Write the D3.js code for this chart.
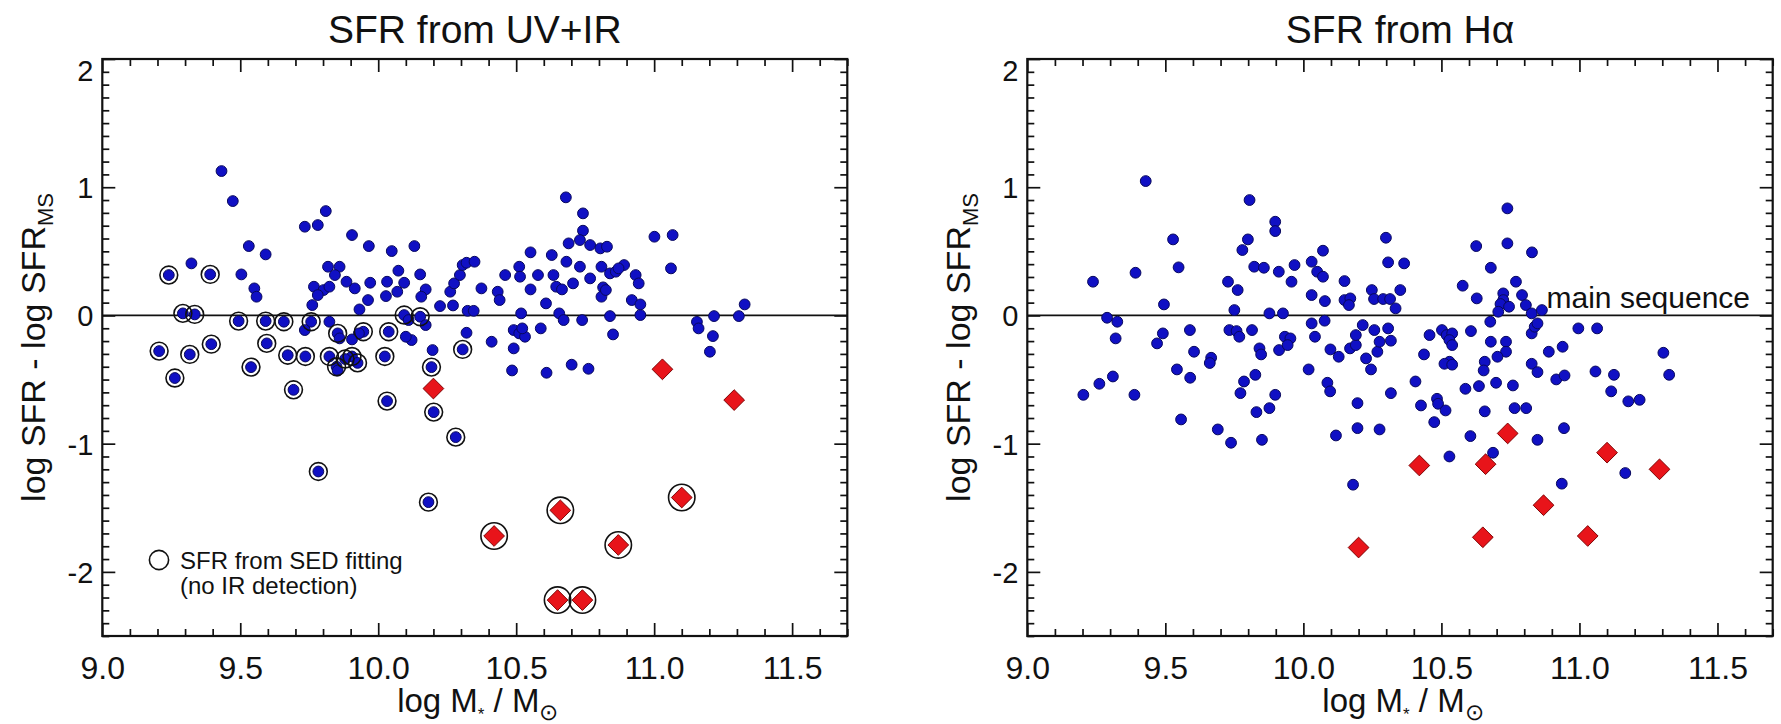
<!DOCTYPE html>
<html>
<head>
<meta charset="utf-8">
<script src="https://cdn.jsdelivr.net/npm/d3@7"></script>
<style>
  body { margin: 0; background: #fff; }
  svg text { font-family: "Liberation Sans", Arial, Helvetica, sans-serif; fill: #111; }
</style>
</head>
<body>
<svg id="chart" width="1781" height="724"></svg>
<script>
// ---- Star-forming galaxies: SFR from UV+IR (left panel) ----
const uvirMass = [
  9.432, 9.473, 9.810, 9.734, 9.781, 9.905, 9.531, 9.592, 9.966, 10.049, 10.131, 9.323, 9.241, 9.391, 9.504,
  9.551, 9.559, 9.818, 9.860, 9.843, 9.885, 9.915, 9.767, 9.802, 9.781, 9.761, 9.823, 9.932, 9.963, 9.971,
  10.032, 10.073, 10.069, 10.028, 10.094, 10.152, 10.172, 10.156, 10.224, 10.271, 10.261, 10.275, 10.296, 10.306, 10.320,
  10.349, 10.324, 10.346, 10.374, 10.433, 10.440, 10.460, 10.511, 10.514, 10.552, 10.552, 10.579, 10.608, 10.629, 10.635,
  10.645, 10.666, 10.680, 10.682, 10.690, 10.706, 10.731, 10.742, 10.742, 10.731, 10.768, 10.805, 10.829, 10.768, 10.809,
  10.815, 10.809, 10.840, 10.861, 10.891, 10.871, 10.825, 10.933, 10.944, 10.919, 10.950, 11.001, 11.067, 11.061, 11.328,
  11.217, 11.307, 11.155, 11.161, 11.213, 11.202, 10.656, 10.672, 10.739, 10.840, 10.851, 10.950, 10.518, 10.491, 10.511,
  10.532, 10.522, 10.589, 10.320, 10.411, 10.491, 10.197, 10.306, 10.094, 10.152, 10.110, 10.172, 10.121, 10.100, 10.038,
  9.946, 9.930, 9.853, 9.860, 9.905, 9.823, 9.757, 9.734, 9.658, 9.592, 9.494, 9.335, 9.292, 9.596, 9.395,
  9.206, 9.317, 9.539, 9.672, 9.736, 9.823, 9.905, 9.880, 10.024, 10.193, 9.849, 9.853, 9.925, 9.263, 9.693,
  10.032, 10.201, 10.281, 9.783, 10.182, 10.485, 10.610, 10.701, 10.762
];
const uvirDelta = [
  1.126, 0.892, 0.814, 0.692, 0.705, 0.627, 0.541, 0.476, 0.541, 0.502, 0.541, 0.406, 0.315, 0.320, 0.320,
  0.211, 0.146, 0.380, 0.380, 0.315, 0.263, 0.211, 0.224, 0.198, 0.159, 0.081, 0.224, 0.047, 0.120, 0.255,
  0.263, 0.349, 0.185, 0.151, 0.255, 0.320, 0.203, 0.146, 0.073, 0.078, 0.185, 0.250, 0.315, 0.393, 0.411,
  0.419, 0.036, 0.036, 0.211, 0.185, 0.120, 0.315, 0.380, 0.302, 0.492, 0.203, 0.315, 0.094, 0.471, 0.315,
  0.224, 0.203, 0.921, 0.419, 0.562, 0.250, 0.380, 0.796, 0.661, 0.588, 0.549, 0.523, 0.536, 0.289, 0.380,
  0.219, 0.146, 0.328, 0.341, 0.393, 0.367, 0.198, 0.315, 0.250, 0.120, 0.086, 0.614, 0.627, 0.367, 0.086,
  -0.005, -0.005, -0.050, -0.101, -0.161, -0.283, 0.016, -0.036, -0.036, -0.005, -0.148, 0.003, 0.016, -0.114, -0.140,
  -0.166, -0.101, -0.101, -0.135, -0.205, -0.257, -0.270, -0.265, 0.003, -0.010, -0.036, -0.075, -0.192, -0.166, -0.127,
  -0.127, -0.140, -0.140, -0.179, -0.187, -0.049, -0.049, -0.114, -0.049, -0.044, -0.044, 0.008, 0.016, -0.218, -0.224,
  -0.278, -0.304, -0.403, -0.310, -0.320, -0.320, -0.320, -0.340, -0.320, -0.403, -0.400, -0.430, -0.370, -0.488, -0.580,
  -0.668, -0.754, -0.949, -1.217, -1.456, -0.429, -0.447, -0.384, -0.416
];
// 1 = SFR from SED fitting (no IR detection)
const uvirSed = [
  0, 0, 0, 0, 0, 0, 0, 0, 0, 0, 0, 0, 1, 1, 0,
  0, 0, 0, 0, 0, 0, 0, 0, 0, 0, 0, 0, 0, 0, 0,
  0, 0, 0, 0, 0, 0, 0, 0, 0, 0, 0, 0, 0, 0, 0,
  0, 0, 0, 0, 0, 0, 0, 0, 0, 0, 0, 0, 0, 0, 0,
  0, 0, 0, 0, 0, 0, 0, 0, 0, 0, 0, 0, 0, 0, 0,
  0, 0, 0, 0, 0, 0, 0, 0, 0, 0, 0, 0, 0, 0, 0,
  0, 0, 0, 0, 0, 0, 0, 0, 0, 0, 0, 0, 0, 0, 0,
  0, 0, 0, 0, 0, 0, 0, 1, 1, 1, 0, 0, 0, 0, 1,
  1, 0, 1, 0, 0, 0, 1, 0, 1, 1, 1, 1, 1, 1, 1,
  1, 1, 1, 1, 1, 1, 1, 1, 1, 1, 1, 0, 1, 1, 1,
  1, 1, 1, 1, 1, 0, 0, 0, 0
];

// ---- Star-forming galaxies: SFR from H-alpha (right panel) ----
const haMass = [
  9.429, 9.805, 9.898, 9.898, 10.739, 9.528, 9.799, 9.779, 10.071, 10.299, 10.307, 10.365, 10.626, 10.739, 10.828,
  9.392, 9.238, 9.548, 9.822, 9.857, 9.911, 9.968, 10.030, 10.050, 10.071, 9.957, 9.727, 9.762, 10.149, 10.679,
  10.770, 10.577, 10.628, 10.248, 10.351, 10.256, 10.289, 10.314, 10.334, 10.030, 10.078, 10.149, 10.170, 10.165, 9.495,
  9.750, 9.877, 9.926, 10.724, 10.724, 10.714, 10.745, 10.706, 10.792, 10.806, 10.827, 10.864, 10.677, 10.679, 10.734,
  10.734, 10.703, 10.827, 10.838, 10.848, 10.889, 10.939, 10.996, 11.064, 11.304, 9.289, 9.326, 9.320, 9.470, 9.491,
  9.589, 9.604, 9.666, 9.732, 9.758, 9.768, 9.814, 9.841, 9.847, 9.912, 9.933, 9.953, 9.943, 10.030, 10.042,
  10.077, 10.098, 10.128, 10.169, 10.190, 10.190, 10.215, 10.227, 10.257, 10.268, 10.276, 10.307, 10.317, 10.437, 10.457,
  10.502, 10.519, 10.539, 10.529, 10.539, 10.607, 10.529, 10.657,
  9.203, 9.261, 9.310, 9.388, 9.542, 9.590, 9.557, 9.661, 9.690, 9.738, 9.772, 9.785, 9.826, 9.830, 9.850,
  9.877, 9.898, 10.019, 10.087, 10.097, 10.118, 10.196, 10.196, 10.245, 10.276, 10.317, 10.180, 10.406, 10.426, 10.484,
  10.488, 10.515, 10.474, 10.511, 10.539, 10.587, 10.605, 10.529, 10.636, 10.653, 10.657, 10.687, 10.698, 10.759, 10.765,
  10.807, 10.827, 10.848, 10.848, 10.916, 10.946, 10.944, 10.936, 11.058, 11.125, 11.115, 11.177, 11.218, 11.166, 11.325
];
const haDelta = [
  1.048, 0.900, 0.731, 0.658, 0.835, 0.593, 0.593, 0.510, 0.505, 0.606, 0.414, 0.406, 0.541, 0.562, 0.492,
  0.333, 0.263, 0.375, 0.380, 0.372, 0.341, 0.393, 0.419, 0.341, 0.302, 0.263, 0.263, 0.198, 0.268, 0.372,
  0.263, 0.232, 0.133, 0.198, 0.198, 0.128, 0.128, 0.128, 0.055, 0.159, 0.112, 0.120, 0.133, 0.081, 0.086,
  0.042, 0.016, 0.016, 0.172, 0.120, 0.089, 0.068, 0.029, 0.159, 0.081, 0.016, 0.042, -0.049, -0.205, -0.205,
  -0.283, -0.322, -0.140, -0.088, -0.062, -0.283, -0.244, -0.101, -0.101, -0.291, -0.018, -0.049, -0.179, -0.218, -0.140,
  -0.114, -0.283, -0.330, -0.114, -0.122, -0.166, -0.114, -0.257, -0.304, -0.270, -0.166, -0.179, -0.231, -0.062, -0.166,
  -0.041, -0.265, -0.322, -0.257, -0.231, -0.153, -0.075, -0.335, -0.114, -0.283, -0.205, -0.101, -0.197, -0.304, -0.153,
  -0.114, -0.153, -0.140, -0.192, -0.231, -0.122, -0.361, -0.361,
  -0.619, -0.533, -0.476, -0.619, -0.421, -0.486, -0.811, -0.371, -0.889, -0.993, -0.606, -0.515, -0.463, -0.754, -0.970,
  -0.723, -0.619, -0.421, -0.525, -0.592, -0.936, -0.684, -0.879, -0.421, -0.889, -0.606, -1.320, -0.515, -0.702, -0.650,
  -0.689, -0.741, -0.832, -0.377, -0.384, -0.572, -0.941, -1.100, -0.551, -0.429, -0.748, -1.071, -0.525, -0.546, -0.723,
  -0.723, -0.377, -0.442, -0.970, -0.499, -0.468, -0.879, -1.312, -0.437, -0.463, -0.592, -0.670, -0.658, -1.229, -0.463
];

// ---- Quiescent-side outliers (red diamonds), same galaxies in both panels ----
const qMass      = [10.20, 10.42, 10.66, 10.65, 10.74, 10.87, 11.03, 11.10, 11.29];
const qDeltaUVIR = [-0.57, -1.72, -1.52, -2.22, -2.22, -1.79, -0.42, -1.42, -0.66];
const qSedUVIR   = [0, 1, 1, 1, 1, 1, 0, 1, 0];
const qDeltaHa   = [-1.81, -1.17, -1.16, -1.73, -0.92, -1.48, -1.72, -1.07, -1.20];

// ---- Axes ----
const xDomain = [9.0, 11.7];
const yDomain = [-2.5, 2.0];
const xMajorTicks = [9.0, 9.5, 10.0, 10.5, 11.0, 11.5];
const xTickLabels = ["9.0", "9.5", "10.0", "10.5", "11.0", "11.5"];
const yMajorTicks = [-2, -1, 0, 1, 2];
const yTickLabels = ["-2", "-1", "0", "1", "2"];
const panelTitles = ["SFR from UV+IR", "SFR from H\u03b1"];

const svg = d3.select("#chart");
const INK = "#111";
const plotTop = 59, plotBottom = 636;
const MAJOR = 13, MINOR = 7;

const xMinorTicks = d3.range(90, 118).map(v => v / 10).filter(v => Math.round(v * 10) % 5 !== 0);
const yMinorTicks = d3.range(-25, 21).map(v => v / 10).filter(v => Math.round(v * 10) % 10 !== 0);

function styleAxis(g) {
  g.select(".domain").remove();
  g.selectAll(".tick line").attr("stroke", INK).attr("stroke-width", 1.7);
  g.attr("font-family", null).attr("font-size", null);
}

function drawPanel(i, left, right, mass, delta, sed, qDelta, qSed) {
  const x = d3.scaleLinear().domain(xDomain).range([left, right]);
  const y = d3.scaleLinear().domain(yDomain).range([plotBottom, plotTop]);
  const g = svg.append("g");

  // ticks on all four sides, pointing inward
  const sides = [
    [d3.axisBottom, x, `translate(0,${plotBottom})`, xMinorTicks, xMajorTicks],
    [d3.axisTop, x, `translate(0,${plotTop})`, xMinorTicks, xMajorTicks],
    [d3.axisLeft, y, `translate(${left},0)`, yMinorTicks, yMajorTicks],
    [d3.axisRight, y, `translate(${right},0)`, yMinorTicks, yMajorTicks]
  ];
  sides.forEach(([axisFn, sc, tr, minor, major]) => {
    g.append("g").attr("transform", tr)
      .call(axisFn(sc).tickValues(minor).tickSize(-MINOR).tickFormat(""))
      .call(styleAxis);
    g.append("g").attr("transform", tr)
      .call(axisFn(sc).tickValues(major).tickSize(-MAJOR).tickFormat(""))
      .call(styleAxis);
  });

  // tick labels
  const xLab = g.append("g").attr("transform", `translate(0,${plotBottom})`)
    .call(d3.axisBottom(x).tickValues(xMajorTicks).tickSize(0).tickPadding(20)
      .tickFormat((d, k) => xTickLabels[k]))
    .call(styleAxis);
  xLab.selectAll("text").attr("font-size", 32).attr("fill", INK);

  const yLab = g.append("g").attr("transform", `translate(${left},0)`)
    .call(d3.axisLeft(y).tickValues(yMajorTicks).tickSize(0).tickPadding(9)
      .tickFormat((d, k) => yTickLabels[k]))
    .call(styleAxis);
  yLab.selectAll("text").attr("font-size", 29).attr("fill", INK)
    .attr("dy", d => d === 2 ? "0.74em" : "0.36em");

  // frame
  g.append("rect").attr("x", left).attr("y", plotTop)
    .attr("width", right - left).attr("height", plotBottom - plotTop)
    .attr("fill", "none").attr("stroke", INK).attr("stroke-width", 2.2);

  // main-sequence reference line
  g.append("line").attr("x1", left).attr("x2", right)
    .attr("y1", y(0)).attr("y2", y(0))
    .attr("stroke", INK).attr("stroke-width", 1.8);

  // titles
  const cx = (left + right) / 2;
  g.append("text").attr("x", cx).attr("y", 43).attr("text-anchor", "middle")
    .attr("font-size", 39).text(panelTitles[i]);

  const xt = g.append("text").attr("x", cx + 3).attr("y", 712)
    .attr("text-anchor", "middle").attr("font-size", 33);
  xt.append("tspan").text("log M");
  xt.append("tspan").attr("font-size", 17).attr("dy", 8).text("*");
  xt.append("tspan").attr("dy", -8).text(" / M");
  xt.append("tspan").attr("font-size", 23).attr("dy", 8).text("\u2299");

  const yt = g.append("text")
    .attr("transform", `translate(${left - 57},${(plotTop + plotBottom) / 2}) rotate(-90)`)
    .attr("text-anchor", "middle").attr("font-size", 34);
  yt.append("tspan").text("log SFR - log SFR");
  yt.append("tspan").attr("font-size", 22).attr("dy", 8).text("MS");

  // galaxies
  const pts = mass.map((m, k) => ({ m, d: delta[k], s: sed ? sed[k] : 0 }));
  g.append("g").selectAll("circle").data(pts).join("circle")
    .attr("cx", p => x(p.m)).attr("cy", p => y(p.d)).attr("r", 5.4)
    .attr("fill", "#1010c4").attr("stroke", "#08085e").attr("stroke-width", 1);
  g.append("g").selectAll("circle").data(pts.filter(p => p.s)).join("circle")
    .attr("cx", p => x(p.m)).attr("cy", p => y(p.d)).attr("r", 8.9)
    .attr("fill", "none").attr("stroke", INK).attr("stroke-width", 1.6);

  const q = qMass.map((m, k) => ({ m, d: qDelta[k], s: qSed ? qSed[k] : 0 }));
  const diamond = d3.symbol().type(d3.symbolSquare).size(215);
  g.append("g").selectAll("path").data(q).join("path")
    .attr("d", diamond)
    .attr("transform", p => `translate(${x(p.m)},${y(p.d)}) rotate(45)`)
    .attr("fill", "#e8141a").attr("stroke", "#7a0000").attr("stroke-width", 0.9);
  g.append("g").selectAll("circle").data(q.filter(p => p.s)).join("circle")
    .attr("cx", p => x(p.m)).attr("cy", p => y(p.d)).attr("r", 13.2)
    .attr("fill", "none").attr("stroke", INK).attr("stroke-width", 1.6);

  return { x, y, g };
}

const L = drawPanel(0, 102.3, 847.3, uvirMass, uvirDelta, uvirSed, qDeltaUVIR, qSedUVIR);
const R = drawPanel(1, 1027.3, 1772.7, haMass, haDelta, null, qDeltaHa, null);

// legend for the open circles (left panel)
L.g.append("circle").attr("cx", 159).attr("cy", 560).attr("r", 9.6)
  .attr("fill", "none").attr("stroke", INK).attr("stroke-width", 1.6);
L.g.append("text").attr("x", 180).attr("y", 569).attr("font-size", 24).text("SFR from SED fitting");
L.g.append("text").attr("x", 180).attr("y", 594).attr("font-size", 24).text("(no IR detection)");

// main sequence label (right panel)
R.g.append("text").attr("x", 1750).attr("y", 308).attr("text-anchor", "end")
  .attr("font-size", 30).text("main sequence");
</script>
</body>
</html>
